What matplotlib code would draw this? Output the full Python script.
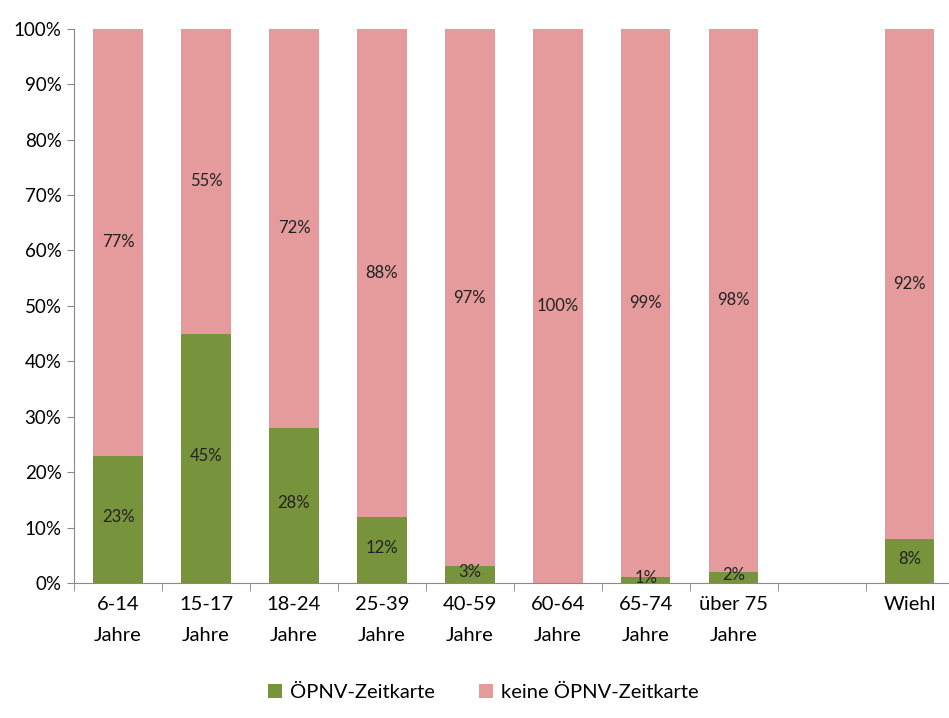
import matplotlib.pyplot as plt
import numpy as np

categories = ['6-14\nJahre', '15-17\nJahre', '18-24\nJahre', '25-39\nJahre', '40-59\nJahre',
              '60-64\nJahre', '65-74\nJahre', 'über 75\nJahre', '', 'Wiehl']
mit_karte = [23, 45, 28, 12, 3, 0, 1, 2, np.nan, 8]
ohne_karte = [77, 55, 72, 88, 97, 100, 99, 98, np.nan, 92]

green = '#77933c'
pink = '#e59a9c'

plt.rcParams['font.family'] = ['Lato', 'DejaVu Sans']

fig = plt.figure(figsize=(9.49, 7.18), dpi=100)
ax = fig.add_axes([0.078, 0.188, 0.927, 0.772])

x = np.arange(len(categories))
g = np.nan_to_num(mit_karte)
p = np.nan_to_num(ohne_karte)
ax.bar(x, g, width=0.56, color=green, label='ÖPNV-Zeitkarte')
ax.bar(x, p, width=0.56, bottom=g, color=pink, label='keine ÖPNV-Zeitkarte')

# value labels in the middle of each segment
for i in range(len(categories)):
    if np.isnan(mit_karte[i]):
        continue
    if mit_karte[i] > 0:
        ax.text(x[i], mit_karte[i] / 2 + 0.4, f'{mit_karte[i]:.0f}%', ha='center', va='center',
                fontsize=12, color='#222222')
    ax.text(x[i], mit_karte[i] + ohne_karte[i] / 2, f'{ohne_karte[i]:.0f}%', ha='center', va='center',
            fontsize=12, color='#222222')

ax.set_xlim(-0.5, len(categories) - 0.5)
ax.set_ylim(0, 100)
ax.set_yticks(range(0, 101, 10))
ax.set_yticklabels([f'{v}%' for v in range(0, 101, 10)])
ax.set_xticks(x)
ax.set_xticklabels(categories, linespacing=2.0)
ax.set_xticks(np.arange(-0.5, len(categories), 1), minor=True)
ax.tick_params(axis='x', which='major', length=0, pad=9, labelsize=14.5)
ax.tick_params(axis='x', which='minor', length=6, color='#888888')
ax.tick_params(axis='y', length=5, color='#888888', labelsize=13.5, pad=4)

for s in ['top', 'right']:
    ax.spines[s].set_visible(False)
for s in ['left', 'bottom']:
    ax.spines[s].set_color('#888888')

ax.legend(loc='upper center', bbox_to_anchor=(0.465, -0.15), ncol=2, frameon=False,
          fontsize=14.5, handlelength=0.7, handleheight=0.7, columnspacing=2.2, handletextpad=0.4)

fig.savefig('out.png', dpi=100)
